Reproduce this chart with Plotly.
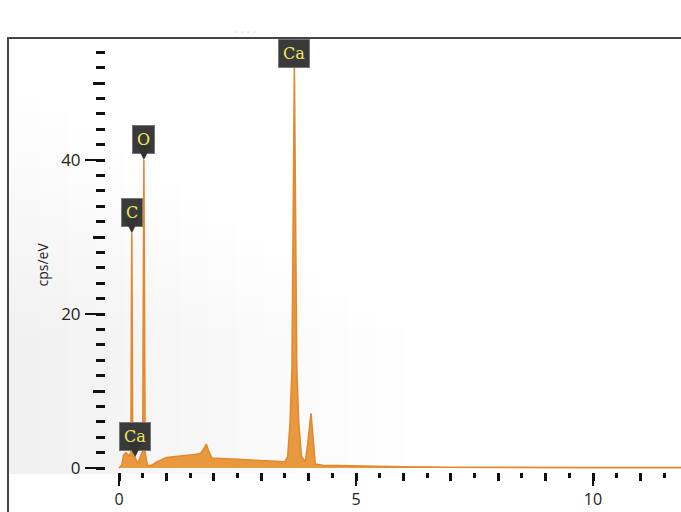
import plotly.graph_objects as go

# ---- data ----
energy_kev = [0.00, 0.06, 0.10, 0.15, 0.20, 0.25, 0.27, 0.29, 0.34, 0.40, 0.46, 0.50,
              0.525, 0.55, 0.60, 0.70, 0.80, 0.90, 1.00, 1.20, 1.40, 1.60, 1.72, 1.79,
              1.84, 1.89, 1.96, 2.10, 2.40, 2.80, 3.20, 3.50, 3.56, 3.61, 3.65, 3.70,
              3.75, 3.79, 3.85, 3.93, 3.98, 4.05, 4.10, 4.14, 4.30, 4.60, 5.00, 5.50,
              6.00, 7.00, 8.00, 9.00, 10.00, 11.00, 12.00]
cps_per_ev = [0.0, 0.4, 1.7, 2.0, 1.6, 1.9, 30.5, 1.6, 1.3, 0.6, 1.6, 2.2,
              40.0, 2.0, 0.3, 0.4, 0.8, 1.1, 1.35, 1.5, 1.6, 1.75, 1.9, 2.5,
              3.1, 2.2, 1.3, 1.25, 1.1, 1.0, 0.9, 0.8, 1.5, 6.0, 13.0, 52.0,
              13.0, 6.0, 1.5, 0.8, 3.0, 7.1, 3.0, 0.5, 0.35, 0.3, 0.28, 0.22,
              0.15, 0.10, 0.06, 0.05, 0.05, 0.05, 0.05]

label_text = ["Ca", "O", "C", "Ca"]
label_energy = [3.70, 0.525, 0.27, 0.34]
label_cps = [52.0, 40.0, 30.5, 1.4]
label_pointer = [False, True, True, True]

x_tick_vals = list(range(0, 12))
x_tick_text = ["0", "", "", "", "", "5", "", "", "", "", "10", ""]
y_tick_vals = [0, 20, 40]
y_tick_text = ["0", "20", "40"]

# ---- figure ----
W, H = 681, 512
ML, MR, MT, MB = 106, 0, 38, 40
PW, PH = W - ML - MR, H - MT - MB

def px_x(p):
    return (p - ML) / PW

def px_y(p):
    return (H - MB - p) / PH

fig = go.Figure()

fig.add_trace(go.Scatter(
    x=energy_kev, y=cps_per_ev, mode="lines",
    fill="tozeroy", fillcolor="#E8993F",
    line=dict(color="#E3892C", width=1.6),
    showlegend=False, hoverinfo="skip"))

fig.add_trace(go.Scatter(x=[None], y=[None], xaxis="x2", yaxis="y2",
                         showlegend=False, hoverinfo="skip"))

shapes = []
# soft grey background gradient on the left
N = 14
for i in range(N):
    shapes.append(dict(type="rect", xref="paper", yref="paper", layer="below",
                       x0=px_x(9), x1=px_x(40 + i * 28),
                       y0=px_y(474), y1=px_y(95 + i * 18),
                       fillcolor="#000000", opacity=0.004, line=dict(width=0)))
# frame
shapes.append(dict(type="line", xref="paper", yref="paper",
                   x0=px_x(7), x1=1.0, y0=1.0, y1=1.0,
                   line=dict(color="#444", width=2)))
shapes.append(dict(type="line", xref="paper", yref="paper",
                   x0=px_x(8), x1=px_x(8), y0=1.0, y1=px_y(H),
                   line=dict(color="#444", width=2)))

lab_font = dict(family="DejaVu Serif", size=16, color="#EDEB5A")
annotations = []
for t, e, c, p in zip(label_text, label_energy, label_cps, label_pointer):
    if p:
        annotations.append(dict(
            x=e, y=c, xref="x", yref="y", text=t, showarrow=True,
            ax=0, ay=-21, arrowhead=2, arrowsize=1, arrowwidth=3,
            arrowcolor="#333", standoff=0,
            bgcolor="#3a3a3a", bordercolor="#777", borderwidth=1, borderpad=4,
            font=lab_font))
    else:
        annotations.append(dict(
            x=e, y=c, xref="x", yref="y", text=t, showarrow=False,
            yanchor="bottom", yshift=0,
            bgcolor="#3a3a3a", bordercolor="#777", borderwidth=1, borderpad=4,
            font=lab_font))

annotations.append(dict(x=px_x(30), y=px_y(265), xref="paper", yref="paper",
                        text="cps/eV", textangle=-90, showarrow=False,
                        font=dict(family="Open Sans", size=14, color="#222")))
annotations.append(dict(x=px_x(232), y=px_y(22), xref="paper", yref="paper",
                        text="· · · ·", showarrow=False,
                        font=dict(family="Open Sans", size=12, color="#dddddd")))

x_range = [(ML - 119) / 47.4, (W - MR - 119) / 47.4]
y_range = [(468 - (H - MB)) / 7.7, (468 - MT) / 7.7]

fig.update_layout(
    width=W, height=H,
    margin=dict(l=ML, r=MR, t=MT, b=MB, pad=0, autoexpand=False),
    paper_bgcolor="white", plot_bgcolor="rgba(0,0,0,0)",
    shapes=shapes, annotations=annotations,
    xaxis=dict(range=x_range, tickmode="array", tickvals=x_tick_vals,
               ticktext=x_tick_text, ticks="outside", ticklen=8, tickwidth=3,
               tickcolor="#111", showgrid=False, zeroline=False, showline=False,
               automargin=False, ticklabelstandoff=5,
               tickfont=dict(family="Open Sans", size=16, color="#222"),
               minor=dict(tick0=0, dtick=0.5, ticks="outside", ticklen=5,
                          tickwidth=3, tickcolor="#111", showgrid=False)),
    xaxis2=dict(range=x_range, overlaying="x", anchor="y", side="bottom",
                tickmode="array", tickvals=[0, 5, 10], ticks="outside",
                ticklen=13, tickwidth=2, tickcolor="#111", automargin=False,
                showticklabels=False, showgrid=False, zeroline=False, showline=False),
    yaxis=dict(range=y_range, tickmode="array", tickvals=y_tick_vals,
               ticktext=y_tick_text, ticks="outside", ticklen=20, tickwidth=2,
               tickcolor="#111", showgrid=False, zeroline=False, showline=False,
               automargin=False, ticklabelstandoff=1,
               tickfont=dict(family="Open Sans", size=17, color="#222"),
               minor=dict(tick0=0, dtick=2, ticks="outside", ticklen=9,
                          tickwidth=3, tickcolor="#111", showgrid=False)),
    yaxis2=dict(range=y_range, overlaying="y", anchor="x", side="left",
                tickmode="array", tickvals=[10, 30, 50], ticks="outside",
                ticklen=12, tickwidth=3, tickcolor="#111", automargin=False,
                showticklabels=False, showgrid=False, zeroline=False, showline=False),
)

fig.write_html("out.html")
